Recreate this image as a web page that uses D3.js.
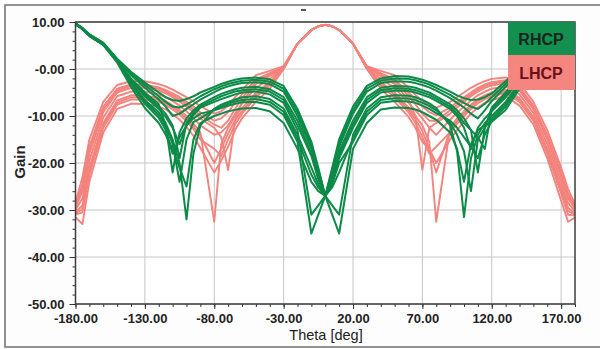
<!DOCTYPE html>
<html>
<head>
<meta charset="utf-8">
<script src="https://cdn.jsdelivr.net/npm/d3@7"></script>
<style>
    body { margin: 0; background: #ffffff; }
    svg text { font-family: "Liberation Sans", Arial, sans-serif; }
</style>
</head>
<body>
<svg id="chart" width="600" height="349"></svg>
<script>
// sample angles (deg), shared by every curve
var thetaDeg = [-180, -175, -170, -160, -150, -140, -130, -120,
    -115, -110, -105, -100, -95, -90,
    -80, -75, -70, -65, -60, -50, -40, -30, -20, -10,
    -5, 0, 5,
    10, 20, 30, 40, 50, 60, 65, 70, 75, 80,
    90, 95, 100, 105, 110, 115, 120,
    130, 140, 150, 160, 170, 175, 180];

// RHCP gain (dB), one row per curve
var rhcpGain = [
    [9.7, 8.7, 7.4, 5.6, 2.2, -0.6, -2.9, -5.0, -6.0, -6.6, -6.8, -6.4, -5.8, -5.0, -3.8, -3.2, -2.7, -2.3, -2.0, -1.8, -2.2, -3.6, -8.5, -15.5, -21.0, -27.0, -21.0, -15.0, -8.0, -3.6, -2.0, -1.5, -1.6, -1.9, -2.3, -2.8, -3.4, -4.8, -5.6, -6.2, -6.6, -6.5, -6.0, -5.2, -2.6, 0.2, 2.6, 5.6, 7.6, 8.7, 9.7],
    [9.7, 8.7, 7.3, 5.5, 2.0, -1.0, -3.4, -5.8, -7.0, -8.0, -8.2, -7.6, -6.7, -5.8, -4.3, -3.7, -3.2, -2.8, -2.5, -2.3, -2.7, -4.2, -9.2, -16.2, -21.5, -27.0, -21.5, -15.8, -8.8, -4.2, -2.5, -2.0, -2.1, -2.4, -2.8, -3.3, -4.0, -5.5, -6.4, -7.2, -8.0, -8.5, -7.4, -6.0, -3.2, -0.3, 2.2, 5.4, 7.5, 8.6, 9.6],
    [9.6, 8.6, 7.2, 5.4, 1.9, -1.3, -4.0, -6.5, -8.0, -10.0, -9.5, -8.5, -7.5, -6.5, -4.9, -4.2, -3.7, -3.3, -3.0, -2.8, -3.2, -4.8, -10.0, -17.0, -22.0, -27.0, -22.0, -16.5, -9.5, -4.8, -3.0, -2.6, -2.7, -3.0, -3.4, -3.9, -4.6, -6.2, -7.2, -8.2, -9.5, -10.5, -8.8, -6.8, -3.8, -0.8, 1.8, 5.2, 7.4, 8.6, 9.6],
    [9.5, 8.5, 7.0, 5.2, 1.6, -2.0, -5.0, -7.5, -12.0, -22.0, -13.5, -10.5, -8.8, -7.6, -6.0, -5.3, -4.8, -4.3, -4.0, -3.8, -4.3, -6.0, -11.0, -18.0, -23.0, -27.0, -23.0, -17.5, -11.0, -6.0, -4.0, -3.6, -3.7, -4.0, -4.5, -5.0, -5.8, -7.5, -8.8, -10.5, -13.0, -22.0, -12.5, -8.2, -5.0, -1.6, 1.2, 4.8, 7.2, 8.5, 9.5],
    [9.6, 8.6, 7.1, 5.2, 1.6, -2.2, -5.4, -8.0, -9.5, -12.0, -19.0, -11.5, -9.3, -7.9, -6.5, -5.8, -5.3, -4.8, -4.5, -4.3, -4.8, -6.6, -12.0, -18.5, -23.5, -27.0, -23.5, -18.3, -11.8, -6.6, -4.5, -4.1, -4.2, -4.5, -5.0, -5.5, -6.3, -8.0, -9.4, -11.5, -13.0, -14.5, -17.0, -8.6, -5.5, -2.0, 1.0, 4.7, 7.1, 8.5, 9.5],
    [9.6, 8.6, 7.1, 5.3, 1.7, -2.4, -5.8, -8.5, -10.2, -12.5, -16.0, -12.0, -9.8, -8.2, -7.0, -6.4, -5.9, -5.4, -5.0, -4.8, -5.4, -7.2, -13.0, -31.0, -29.0, -27.0, -24.0, -19.0, -12.5, -7.2, -5.0, -4.6, -4.7, -5.0, -5.5, -6.0, -6.8, -8.5, -10.0, -12.5, -17.0, -12.5, -10.5, -9.0, -6.0, -2.4, 0.8, 4.6, 7.0, 8.4, 9.6],
    [9.5, 8.5, 7.0, 5.1, 1.5, -2.8, -6.6, -9.2, -11.5, -15.0, -20.0, -32.0, -18.0, -12.0, -8.5, -7.6, -7.0, -6.5, -6.0, -5.8, -6.4, -8.4, -14.0, -21.0, -24.5, -27.0, -29.0, -31.0, -14.0, -8.4, -6.0, -5.6, -5.7, -6.0, -6.6, -7.3, -8.3, -12.0, -17.5, -31.5, -19.0, -14.0, -11.5, -10.0, -7.0, -3.0, 0.4, 4.4, 6.9, 8.3, 9.5],
    [9.6, 8.6, 7.1, 5.2, 1.6, -3.0, -7.0, -9.8, -12.2, -16.0, -24.0, -15.0, -11.3, -10.5, -8.6, -8.0, -7.4, -6.9, -6.6, -6.4, -7.0, -9.1, -14.8, -22.5, -25.2, -27.0, -25.2, -22.0, -14.8, -9.1, -6.6, -6.2, -6.3, -6.6, -7.2, -7.9, -8.8, -11.5, -14.0, -17.5, -26.0, -15.0, -12.5, -10.5, -7.5, -3.3, 0.2, 4.3, 6.8, 8.2, 9.6],
    [9.7, 8.7, 7.3, 5.4, 1.8, -3.2, -7.4, -10.4, -13.0, -18.0, -14.5, -12.0, -10.5, -9.5, -8.8, -8.3, -7.8, -7.4, -7.1, -7.0, -7.6, -9.8, -15.5, -35.0, -31.0, -27.0, -24.5, -20.0, -15.5, -9.8, -7.2, -6.8, -6.9, -7.2, -7.8, -8.5, -9.4, -11.0, -12.5, -14.5, -16.5, -19.0, -14.0, -11.0, -8.0, -3.6, 0.0, 4.2, 6.8, 8.2, 9.7],
    [9.6, 8.6, 7.2, 5.2, 1.4, -3.8, -8.3, -11.5, -14.0, -17.0, -21.0, -25.0, -15.0, -11.5, -10.0, -9.5, -9.0, -8.7, -8.4, -8.3, -9.0, -11.5, -17.0, -24.0, -26.0, -27.0, -31.0, -35.0, -17.0, -11.5, -8.6, -8.2, -8.3, -8.6, -9.2, -10.0, -10.8, -13.5, -17.0, -24.0, -16.0, -13.0, -12.0, -11.2, -8.7, -4.2, -0.5, 4.0, 6.6, 8.1, 9.6]
];

// LHCP gain (dB), one row per curve
var lhcpGain = [
    [-28.5, -23.0, -15.0, -7.0, -3.4, -2.6, -2.6, -3.2, -3.7, -4.4, -5.2, -6.0, -6.9, -7.9, -9.5, -9.0, -7.8, -6.0, -4.5, -1.3, -0.4, 0.6, 5.4, 8.3, 9.1, 9.4, 9.1, 8.3, 5.4, 0.6, -0.4, -1.3, -4.0, -5.5, -6.8, -7.8, -8.2, -7.0, -6.0, -5.0, -4.0, -3.2, -2.6, -2.1, -1.8, -3.0, -7.0, -13.0, -21.0, -25.5, -28.8],
    [-29.0, -24.5, -16.5, -8.0, -4.2, -3.3, -3.3, -3.9, -4.5, -5.2, -6.0, -7.0, -8.0, -9.2, -11.0, -10.5, -9.2, -7.2, -5.4, -2.2, -0.9, 0.5, 5.4, 8.3, 9.1, 9.4, 9.1, 8.3, 5.4, 0.5, -0.9, -2.2, -5.0, -6.5, -8.0, -9.2, -9.8, -8.2, -7.0, -6.0, -5.0, -4.0, -3.3, -2.8, -2.4, -3.8, -7.8, -14.0, -22.0, -26.5, -29.3],
    [-29.2, -25.2, -17.2, -8.6, -4.6, -3.6, -3.6, -4.2, -4.8, -5.6, -6.4, -7.5, -8.6, -9.9, -11.8, -12.5, -11.0, -8.5, -6.2, -2.7, -1.2, 0.5, 5.4, 8.3, 9.1, 9.4, 9.1, 8.3, 5.4, 0.5, -1.2, -2.7, -5.7, -7.5, -9.5, -11.0, -11.0, -8.8, -7.6, -6.5, -5.4, -4.4, -3.6, -3.1, -2.7, -4.2, -8.2, -14.5, -22.5, -27.0, -29.5],
    [-29.5, -26.0, -18.0, -9.2, -5.0, -4.0, -4.0, -4.6, -5.2, -6.0, -6.9, -8.0, -9.2, -10.6, -12.5, -14.5, -21.5, -11.0, -7.0, -3.2, -1.5, 0.4, 5.4, 8.3, 9.1, 9.4, 9.1, 8.3, 5.4, 0.4, -1.5, -3.2, -6.5, -10.0, -21.5, -12.5, -11.5, -9.5, -8.2, -7.0, -5.8, -4.8, -4.0, -3.5, -3.0, -4.6, -8.6, -15.0, -23.0, -27.5, -29.8],
    [-30.0, -27.5, -19.5, -10.3, -5.8, -4.8, -4.8, -5.4, -6.0, -6.8, -7.8, -9.0, -10.4, -12.0, -14.0, -13.5, -12.0, -9.5, -7.4, -4.0, -2.1, 0.3, 5.4, 8.3, 9.1, 9.4, 9.1, 8.3, 5.4, 0.3, -2.1, -4.0, -7.2, -8.8, -10.5, -12.5, -14.0, -10.8, -9.3, -8.0, -6.7, -5.6, -4.8, -4.2, -3.7, -5.4, -9.4, -16.0, -24.0, -28.5, -30.3],
    [-30.5, -29.0, -21.0, -11.5, -6.7, -5.6, -5.6, -6.2, -6.8, -7.7, -8.7, -10.0, -11.6, -13.5, -32.5, -16.0, -12.5, -10.0, -8.4, -5.0, -2.8, 0.2, 5.4, 8.3, 9.1, 9.4, 9.1, 8.3, 5.4, 0.2, -2.8, -5.0, -8.2, -10.0, -12.0, -15.5, -32.5, -12.5, -10.5, -9.0, -7.6, -6.4, -5.6, -5.0, -4.4, -6.2, -10.2, -17.0, -25.0, -29.5, -30.8],
    [-30.8, -29.8, -21.8, -12.0, -7.2, -6.0, -6.0, -6.6, -7.2, -8.1, -9.2, -10.5, -12.2, -14.2, -20.0, -17.0, -13.7, -10.9, -9.0, -5.5, -3.1, 0.15, 5.4, 8.3, 9.1, 9.4, 9.1, 8.3, 5.4, 0.15, -3.1, -5.5, -8.7, -10.7, -13.2, -17.0, -22.0, -13.0, -11.1, -9.5, -8.0, -6.8, -6.0, -5.4, -4.8, -6.6, -10.6, -17.5, -25.8, -30.2, -31.0],
    [-31.0, -30.5, -22.5, -12.5, -7.6, -6.5, -6.5, -7.0, -7.6, -8.6, -9.7, -11.1, -12.8, -15.0, -17.0, -18.5, -15.0, -11.8, -9.5, -6.0, -3.5, 0.1, 5.4, 8.3, 9.1, 9.4, 9.1, 8.3, 5.4, 0.1, -3.5, -6.0, -9.2, -11.5, -14.5, -18.0, -16.5, -13.5, -11.7, -10.0, -8.5, -7.3, -6.4, -5.8, -5.1, -7.0, -11.0, -18.0, -26.5, -31.0, -31.2],
    [-31.5, -33.0, -24.0, -13.5, -8.5, -7.4, -7.4, -8.0, -8.6, -9.6, -10.8, -12.3, -14.2, -16.8, -22.0, -19.5, -16.5, -13.0, -10.5, -7.0, -4.2, 0.0, 5.4, 8.3, 9.1, 9.4, 9.1, 8.3, 5.4, 0.0, -4.2, -7.0, -10.2, -12.5, -15.5, -17.0, -20.0, -15.0, -13.0, -11.2, -9.5, -8.2, -7.2, -6.6, -5.8, -7.8, -11.8, -19.0, -28.0, -32.5, -31.6]
];

var xTickValues = [-180, -130, -80, -30, 20, 70, 120, 170];
var xTickLabels = ["-180.00", "-130.00", "-80.00", "-30.00", "20.00", "70.00", "120.00", "170.00"];
var yTickValues = [10, 0, -10, -20, -30, -40, -50];
var yTickLabels = ["10.00", "-0.00", "-10.00", "-20.00", "-30.00", "-40.00", "-50.00"];
var legendNames = ["RHCP", "LHCP"];

var greenColor = "#0c8a47";
var redColor = "#f3837d";

var plot = {left: 75.5, right: 575, top: 22, bottom: 304};

var svg = d3.select("#chart");

var x = d3.scaleLinear().domain([-180, 180]).range([plot.left, plot.right]);
var y = d3.scaleLinear().domain([-50, 10]).range([plot.bottom, plot.top]);

//外框
svg.append("rect")
    .attr("x", 5)
    .attr("y", 5)
    .attr("width", 610)
    .attr("height", 342)
    .style("fill", "#fdfdfd")
    .style("stroke", "#6e6e6e")
    .style("stroke-width", 1.5);

// little mark at the top (title remnant)
svg.append("line")
    .attr("x1", 301).attr("x2", 306)
    .attr("y1", 10).attr("y2", 10)
    .style("stroke", "#555")
    .style("stroke-width", 2);

svg.append("rect")
    .attr("x", plot.left)
    .attr("y", plot.top)
    .attr("width", plot.right - plot.left)
    .attr("height", plot.bottom - plot.top)
    .style("fill", "#ffffff");

// grid lines
var grid = svg.append("g").classed("grid", true);
grid.selectAll("line.vgrid")
    .data(xTickValues)
    .enter()
    .append("line")
    .classed("vgrid", true)
    .attr("x1", function (d) { return x(d); })
    .attr("x2", function (d) { return x(d); })
    .attr("y1", plot.top)
    .attr("y2", plot.bottom)
    .style("stroke", "#c6c6c6")
    .style("stroke-width", 1);
grid.selectAll("line.hgrid")
    .data(yTickValues)
    .enter()
    .append("line")
    .classed("hgrid", true)
    .attr("x1", plot.left)
    .attr("x2", plot.right)
    .attr("y1", function (d) { return y(d); })
    .attr("y2", function (d) { return y(d); })
    .style("stroke", "#c6c6c6")
    .style("stroke-width", 1);

svg.append("clipPath")
    .attr("id", "plotClip")
    .append("rect")
    .attr("x", plot.left)
    .attr("y", plot.top)
    .attr("width", plot.right - plot.left)
    .attr("height", plot.bottom - plot.top);

var gainLine = d3.line()
    .x(function (d, i) { return x(thetaDeg[i]); })
    .y(function (d) { return y(d); });

//画曲线, LHCP first so RHCP lies on top
function drawCurves(rows, color, cls, w) {
    svg.append("g")
        .attr("clip-path", "url(#plotClip)")
        .selectAll("path." + cls)
        .data(rows)
        .enter()
        .append("path")
        .classed(cls, true)
        .attr("d", gainLine)
        .style("fill", "none")
        .style("stroke", color)
        .style("stroke-width", w)
        .style("stroke-linejoin", "round");
}
drawCurves(lhcpGain, redColor, "lhcp", 1.9);
drawCurves(rhcpGain, greenColor, "rhcp", 2);

// axes
var xAxis = d3.axisBottom(x)
    .tickValues(xTickValues)
    .tickFormat(function (d, i) { return xTickLabels[i]; })
    .tickSize(5)
    .tickPadding(5);
var xMinor = d3.axisBottom(x)
    .tickValues(d3.range(-180, 181, 10))
    .tickFormat("")
    .tickSize(3);
var yAxis = d3.axisLeft(y)
    .tickValues(yTickValues)
    .tickFormat(function (d, i) { return yTickLabels[i]; })
    .tickSize(6)
    .tickPadding(5);
var yMinor = d3.axisLeft(y)
    .tickValues(d3.range(-50, 10.1, 2))
    .tickFormat("")
    .tickSize(3);

function styleAxis(g) {
    g.select(".domain").remove();
    g.selectAll(".tick line").style("stroke", "#333");
    g.selectAll(".tick text")
        .style("font-family", "'Liberation Sans', Arial, sans-serif")
        .style("font-size", "13px")
        .style("font-weight", "bold")
        .style("fill", "#222");
}

svg.append("g").attr("transform", "translate(0," + plot.bottom + ")").call(xMinor).call(styleAxis);
svg.append("g").attr("transform", "translate(0," + plot.bottom + ")").call(xAxis).call(styleAxis);
svg.append("g").attr("transform", "translate(" + plot.left + ",0)").call(yMinor).call(styleAxis);
svg.append("g").attr("transform", "translate(" + plot.left + ",0)").call(yAxis).call(styleAxis);

// plot frame
svg.append("rect")
    .attr("x", plot.left)
    .attr("y", plot.top)
    .attr("width", plot.right - plot.left)
    .attr("height", plot.bottom - plot.top)
    .style("fill", "none")
    .style("stroke", "#3c3c3c")
    .style("stroke-width", 1.5);

// axis titles
svg.append("text")
    .attr("x", 326)
    .attr("y", 340)
    .attr("text-anchor", "middle")
    .style("font-size", "14.5px")
    .style("fill", "#222")
    .text("Theta [deg]");

svg.append("text")
    .attr("transform", "translate(25,162) rotate(-90)")
    .attr("text-anchor", "middle")
    .style("font-size", "15px")
    .style("font-weight", "bold")
    .style("fill", "#222")
    .text("Gain");

// legend
var legendBoxes = [
    {y: 22, h: 33, fill: "#13904f", textColor: "#17251b"},
    {y: 55, h: 35, fill: "#f4857f", textColor: "#6a1018"}
];
var legend = svg.append("g").classed("legend", true);
legend.selectAll("rect")
    .data(legendNames)
    .enter()
    .append("rect")
    .attr("x", 508)
    .attr("y", function (d, i) { return legendBoxes[i].y; })
    .attr("width", plot.right - 508)
    .attr("height", function (d, i) { return legendBoxes[i].h; })
    .style("fill", function (d, i) { return legendBoxes[i].fill; });
legend.selectAll("text")
    .data(legendNames)
    .enter()
    .append("text")
    .attr("x", 541)
    .attr("y", function (d, i) { return legendBoxes[i].y + legendBoxes[i].h / 2 + 6; })
    .attr("text-anchor", "middle")
    .style("font-size", "16px")
    .style("font-weight", "bold")
    .style("fill", function (d, i) { return legendBoxes[i].textColor; })
    .text(function (d) { return d; });
</script>
</body>
</html>
